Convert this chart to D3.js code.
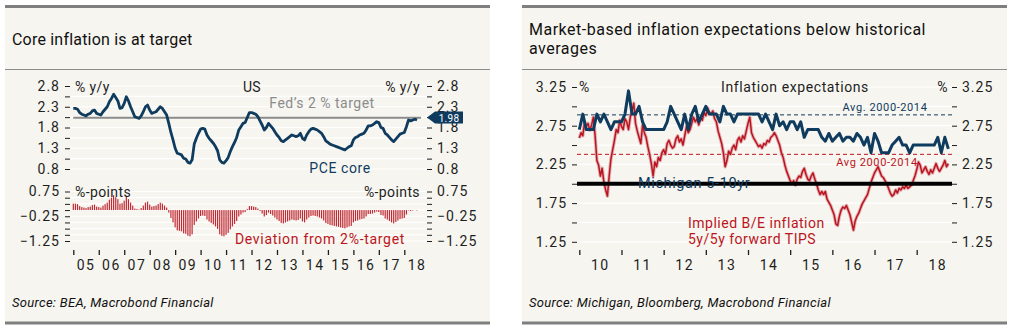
<!DOCTYPE html>
<html>
<head>
<meta charset="utf-8">
<script src="https://cdn.jsdelivr.net/npm/d3@7"></script>
<style>
body{margin:0;background:#fff;}
text{font-family:Roboto,"DejaVu Sans",sans-serif;}
</style>
</head>
<body>
<svg id="chart" width="1016" height="334"></svg>
<script>
// left panel: US core PCE, monthly from Jan 2005
const pceStart = 2005;
const pceCore = [
  2.26, 2.26, 2.24, 2.16, 2.12, 2.10, 2.08, 2.12, 2.14, 2.20, 2.22, 2.14,
  2.12, 2.10, 2.18, 2.24, 2.30, 2.42, 2.50, 2.60, 2.52, 2.44, 2.26, 2.28,
  2.38, 2.54, 2.44, 2.30, 2.18, 2.06, 2.04, 2.02, 2.08, 2.18, 2.30, 2.34,
  2.22, 2.14, 2.16, 2.18, 2.24, 2.30, 2.26, 2.18, 2.10, 1.90, 1.68, 1.50,
  1.30, 1.18, 1.16, 1.14, 1.06, 1.04, 0.96, 0.94, 1.02, 1.40, 1.54, 1.66,
  1.76, 1.78, 1.76, 1.62, 1.54, 1.48, 1.42, 1.34, 1.24, 1.02, 0.96, 0.94,
  1.00, 1.08, 1.22, 1.34, 1.44, 1.56, 1.74, 1.82, 1.90, 1.92, 2.04, 2.16,
  2.16, 2.14, 2.12, 2.06, 1.96, 1.86, 1.74, 1.80, 1.90, 1.84, 1.78, 1.70,
  1.62, 1.56, 1.48, 1.46, 1.50, 1.54, 1.58, 1.62, 1.60, 1.58, 1.60, 1.66,
  1.54, 1.50, 1.62, 1.70, 1.76, 1.78, 1.76, 1.74, 1.70, 1.66, 1.58, 1.48,
  1.44, 1.40, 1.38, 1.36, 1.34, 1.32, 1.30, 1.28, 1.26, 1.30, 1.34, 1.36,
  1.50, 1.56, 1.58, 1.62, 1.64, 1.66, 1.74, 1.84, 1.84, 1.86, 1.90, 1.94,
  1.92, 1.80, 1.78, 1.66, 1.62, 1.56, 1.50, 1.46, 1.52, 1.58, 1.64, 1.66,
  1.68, 1.82, 1.98, 1.96, 1.98, 2.00, 1.98
];
const pceTarget = 2.0;
const leftYears = [2005, 2006, 2007, 2008, 2009, 2010, 2011, 2012, 2013, 2014, 2015, 2016, 2017, 2018];
const leftYearLabels = ["05", "06", "07", "08", "09", "10", "11", "12", "13", "14", "15", "16", "17", "18"];
const pceTicks = [0.8, 1.05, 1.3, 1.55, 1.8, 2.05, 2.3, 2.55, 2.8];
const pceLabels = [0.8, 1.3, 1.8, 2.3, 2.8];
const devTicks = [-1.25, -1, -0.75, -0.5, -0.25, 0, 0.25, 0.5, 0.75];
const devLabels = [-1.25, -0.25, 0.75];

// right panel: Michigan 5-10yr (monthly from Jan 2010), 5y5y TIPS (twice a month from Jan 2010)
const micStart = 2010;
const michigan = [
  2.7, 2.9, 2.7, 2.7, 2.7, 2.9, 2.8, 2.9, 2.8, 2.7, 2.8, 2.8,
  2.8, 2.9, 3.2, 2.9, 2.9, 3.0, 2.8, 2.7, 2.7, 2.7, 2.7, 2.7,
  2.7, 2.8, 3.0, 2.9, 2.8, 2.7, 2.9, 2.7, 2.9, 3.0, 2.8, 2.9,
  3.0, 2.9, 2.9, 2.9, 2.8, 3.0, 2.9, 2.9, 2.8, 2.9, 2.9, 2.9,
  2.9, 2.9, 2.9, 2.9, 2.8, 2.9, 2.8, 2.7, 2.9, 2.75, 2.8, 2.7,
  2.8, 2.8, 2.7, 2.8, 2.6, 2.7, 2.7, 2.7, 2.7, 2.6, 2.55, 2.65,
  2.55, 2.6, 2.65, 2.55, 2.6, 2.6, 2.55, 2.65, 2.6, 2.5, 2.6, 2.4,
  2.65, 2.55, 2.4, 2.4, 2.4, 2.5, 2.55, 2.6, 2.5, 2.5, 2.4, 2.5,
  2.5, 2.5, 2.5, 2.5, 2.5, 2.5, 2.6, 2.4, 2.6, 2.45
];
const tipsStart = 2010;
const tips5y5y = [
  2.59, 2.66, 2.62, 2.80, 2.74, 2.78, 2.69, 2.76, 2.86, 2.62, 2.30, 2.24,
  2.10, 2.20, 2.02, 1.92, 1.84, 2.10, 2.32, 2.44, 2.56, 2.70, 2.66, 2.82,
  2.74, 2.70, 2.84, 2.80, 2.70, 2.86, 2.94, 3.04, 2.78, 2.68, 2.60, 2.52,
  2.76, 2.66, 2.60, 2.48, 2.38, 2.26, 2.10, 2.28, 2.22, 2.34, 2.30, 2.40,
  2.44, 2.38, 2.52, 2.56, 2.50, 2.46, 2.48, 2.58, 2.62, 2.54, 2.58, 2.50,
  2.62, 2.74, 2.66, 2.70, 2.78, 2.86, 2.80, 2.84, 2.76, 2.86, 2.82, 2.92,
  2.88, 2.98, 2.92, 2.90, 2.94, 2.84, 2.80, 2.68, 2.60, 2.52, 2.40, 2.22,
  2.30, 2.42, 2.38, 2.46, 2.50, 2.44, 2.56, 2.60, 2.54, 2.62, 2.58, 2.68,
  2.78, 2.86, 2.66, 2.60, 2.56, 2.52, 2.48, 2.50, 2.46, 2.52, 2.50, 2.56,
  2.54, 2.60, 2.62, 2.66, 2.62, 2.56, 2.50, 2.40, 2.34, 2.24, 2.16, 2.10,
  2.04, 2.00, 2.04, 1.98, 2.06, 2.10, 2.08, 2.16, 2.20, 2.12, 2.06, 2.04,
  2.10, 2.14, 2.06, 2.00, 1.92, 1.86, 1.90, 1.86, 1.90, 1.80, 1.76, 1.72,
  1.66, 1.60, 1.48, 1.46, 1.58, 1.66, 1.70, 1.68, 1.72, 1.66, 1.60, 1.50,
  1.40, 1.52, 1.58, 1.62, 1.68, 1.74, 1.78, 1.82, 1.86, 1.94, 2.02, 2.08,
  2.14, 2.18, 2.22, 2.16, 2.10, 2.08, 2.04, 2.00, 1.94, 1.88, 1.84, 1.86,
  1.92, 1.88, 1.94, 1.92, 1.96, 1.94, 1.98, 1.94, 1.96, 1.98, 2.04, 2.10,
  2.18, 2.28, 2.24, 2.14, 2.18, 2.22, 2.16, 2.12, 2.18, 2.14, 2.20, 2.26,
  2.20, 2.16, 2.20, 2.24, 2.30, 2.22, 2.26
];
const micAvg = 2.89;
const tipsAvg = 2.38;
const refLevel = 2.0;
const rightYears = [2010, 2011, 2012, 2013, 2014, 2015, 2016, 2017, 2018];
const rightYearLabels = ["10", "11", "12", "13", "14", "15", "16", "17", "18"];
const expTicks = [1.25, 1.5, 1.75, 2, 2.25, 2.5, 2.75, 3, 3.25];
const expLabels = [1.25, 1.75, 2.25, 2.75, 3.25];

const NAVY = '#0f3b5e';
const RED = '#bb1420';
const INK = '#1e1e1e';

var svg = d3.select('#chart');

var drawPanel = function(x0, x1, titles, titleSpacing, source){
    svg.append('rect').attr('x', x0).attr('y', 5).attr('width', x1 - x0).attr('height', 319)
        .attr('fill', '#f6f5ef');
    svg.append('rect').attr('x', x0).attr('y', 5).attr('width', x1 - x0).attr('height', 3)
        .attr('fill', '#7f7f7f');
    svg.append('rect').attr('x', x0).attr('y', 321.5).attr('width', x1 - x0).attr('height', 3)
        .attr('fill', '#7f7f7f');
    svg.append('line').attr('x1', x0).attr('x2', x1).attr('y1', 69.5).attr('y2', 69.5)
        .attr('stroke', '#8c8c8c').attr('stroke-width', 1);
    titles.forEach(function(t){
        svg.append('text').attr('x', x0 + 7).attr('y', t.y)
            .attr('font-size', 16).attr('letter-spacing', titleSpacing)
            .attr('fill', '#111').text(t.text);
    });
    svg.append('text').attr('x', x0 + 7).attr('y', 307)
        .attr('font-size', 13).attr('letter-spacing', 0.3)
        .attr('font-style', 'italic').attr('fill', '#111').text(source);
};

var isLabel = function(d, labels){
    return labels.some(function(l){ return Math.abs(l - d) < 1e-9; });
};

var fmtNum = function(digits){
    return function(d){ return (d < 0 ? '\u2212' : '') + Math.abs(d).toFixed(digits); };
};

var yAxis = function(scale, x, side, ticks, labels, fmt){
    var axis = (side == 'left' ? d3.axisLeft(scale) : d3.axisRight(scale))
        .tickValues(ticks).tickSize(5).tickPadding(5)
        .tickFormat(function(d){ return isLabel(d, labels) ? fmt(d) : ''; });
    var g = svg.append('g').attr('transform', 'translate(' + x + ',0)').call(axis);
    g.attr('font-family', null).attr('font-size', 14);
    g.select('.domain').remove();
    g.selectAll('.tick line').attr('stroke', INK);
    // minor ticks carry no label
    g.selectAll('.tick text').filter(function(d){ return !isLabel(d, labels); }).remove();
    g.selectAll('.tick text').attr('fill', INK).attr('letter-spacing', 1);
};

var gridLines = function(scale, ticks, xa, xb){
    svg.append('g').selectAll('line').data(ticks).join('line')
        .attr('x1', xa).attr('x2', xb)
        .attr('y1', function(d){ return scale(d); }).attr('y2', function(d){ return scale(d); })
        .attr('stroke', '#fff').attr('stroke-width', 1.2);
};

var xAxis = function(scale, years, labels, y){
    var axis = d3.axisBottom(scale).tickValues(years).tickSize(5).tickFormat('');
    var g = svg.append('g').attr('transform', 'translate(0,' + y + ')').call(axis);
    g.select('.domain').remove();
    g.selectAll('.tick text').remove();
    g.selectAll('.tick line').attr('stroke', INK).attr('stroke-width', 1.3);
    svg.append('g').selectAll('text').data(years).join('text')
        .attr('x', function(d){ return scale(d + 0.5); }).attr('y', y + 20)
        .attr('text-anchor', 'middle').attr('font-size', 14).attr('letter-spacing', 1.5)
        .attr('fill', INK)
        .text(function(d, i){ return labels[i]; });
};

var label = function(x, y, text, opts){
    opts = opts || {};
    return svg.append('text').attr('x', x).attr('y', y)
        .attr('dominant-baseline', 'central')
        .attr('text-anchor', opts.anchor || 'start')
        .attr('font-size', opts.size || 14)
        .attr('letter-spacing', opts.ls == null ? 0.4 : opts.ls)
        .attr('fill', opts.fill || INK)
        .text(text);
};

// ---------- left panel ----------
drawPanel(5, 490, [{text: 'Core inflation is at target', y: 45}], 0.2,
    'Source: BEA, Macrobond Financial');

var xL = d3.scaleLinear().domain([2005, 2018]).range([73.3, 404.3]);
var yTop = d3.scaleLinear().domain([0.8, 2.8]).range([169, 86]);
var yBot = d3.scaleLinear().domain([-1.25, 0.75]).range([241, 191.5]);

gridLines(yTop, pceTicks, 70, 427);
gridLines(yBot, devTicks, 70, 427);

svg.append('line').attr('x1', xL(pceStart)).attr('x2', 421)
    .attr('y1', yTop(pceTarget) - 1.5).attr('y2', yTop(pceTarget) - 1.5)
    .attr('stroke', '#8a8a8a').attr('stroke-width', 2);

var pceLine = d3.line()
    .x(function(d, i){ return xL(pceStart + i / 12); })
    .y(function(d){ return yTop(d); });
svg.append('path').datum(pceCore).attr('d', pceLine)
    .attr('fill', 'none').attr('stroke', NAVY).attr('stroke-width', 2.8)
    .attr('stroke-linejoin', 'round');

// deviation from target as monthly bars
var deviation = pceCore.map(function(v){ return v - pceTarget; });
svg.append('g').selectAll('rect').data(deviation).join('rect')
    .attr('x', function(d, i){ return xL(pceStart + i / 12) - 0.6; })
    .attr('width', 1.2)
    .attr('y', function(d){ return Math.min(yBot(0), yBot(d)); })
    .attr('height', function(d){ return Math.abs(yBot(d) - yBot(0)); })
    .attr('fill', RED).attr('opacity', 0.9);

yAxis(yTop, 70, 'left', pceTicks, pceLabels, fmtNum(1));
yAxis(yTop, 427, 'right', pceTicks, pceLabels, fmtNum(1));
yAxis(yBot, 70, 'left', devTicks, devLabels, fmtNum(2));
yAxis(yBot, 427, 'right', devTicks, devLabels, fmtNum(2));
xAxis(xL, leftYears, leftYearLabels, 250);

label(75, 87, '% y/y');
label(420, 87, '% y/y', {anchor: 'end'});
label(252, 87, 'US', {anchor: 'middle'});
label(322, 103, 'Fed\u2019s 2 % target', {anchor: 'middle', fill: '#8c8c8c', ls: 0.5});
label(340, 168, 'PCE core', {anchor: 'middle', fill: NAVY, ls: 0.6});
label(75, 192, '%-points');
label(420, 192, '%-points', {anchor: 'end'});
label(320, 238.5, 'Deviation from 2%-target', {anchor: 'middle', fill: RED, ls: 0.7});

// last value callout
var lastPce = pceCore[pceCore.length - 1];
var cy = yTop(lastPce) - 2.5;
svg.append('path')
    .attr('d', 'M427,' + cy + 'L435,' + (cy - 6) + 'L463,' + (cy - 6) + 'L463,' + (cy + 6) + 'L435,' + (cy + 6) + 'Z')
    .attr('fill', NAVY);
label(449, cy + 0.5, lastPce.toFixed(2), {anchor: 'middle', size: 10, fill: '#fff', ls: 0.3});

// ---------- right panel ----------
drawPanel(522, 1007, [
    {text: 'Market-based inflation expectations below historical', y: 35},
    {text: 'averages', y: 53.5}
], 0.5, 'Source: Michigan, Bloomberg, Macrobond Financial');

var xR = d3.scaleLinear().domain([2010, 2018]).range([579.3, 916.7]);
var yR = d3.scaleLinear().domain([1.25, 3.25]).range([241.8, 87]);

gridLines(yR, expTicks, 577, 952);

var dashed = function(v, color){
    svg.append('line').attr('x1', 577).attr('x2', 952)
        .attr('y1', yR(v)).attr('y2', yR(v))
        .attr('stroke', color).attr('stroke-width', 1).attr('stroke-dasharray', '4,3');
};
dashed(micAvg, NAVY);
dashed(tipsAvg, RED);

var tipsLine = d3.line()
    .x(function(d, i){ return xR(tipsStart + i / 24); })
    .y(function(d){ return yR(d); });
svg.append('path').datum(tips5y5y).attr('d', tipsLine)
    .attr('fill', 'none').attr('stroke', '#dc9ea2').attr('stroke-width', 3.4)
    .attr('stroke-linejoin', 'round').attr('opacity', 0.8);
svg.append('path').datum(tips5y5y).attr('d', tipsLine)
    .attr('fill', 'none').attr('stroke', RED).attr('stroke-width', 1.5)
    .attr('stroke-linejoin', 'round');

svg.append('line').attr('x1', 577).attr('x2', 952)
    .attr('y1', yR(refLevel)).attr('y2', yR(refLevel))
    .attr('stroke', '#000').attr('stroke-width', 4);

var micLine = d3.line()
    .x(function(d, i){ return xR(micStart + i / 12); })
    .y(function(d){ return yR(d); });
svg.append('path').datum(michigan).attr('d', micLine)
    .attr('fill', 'none').attr('stroke', NAVY).attr('stroke-width', 3)
    .attr('stroke-linejoin', 'round');

yAxis(yR, 577, 'left', expTicks, expLabels, fmtNum(2));
yAxis(yR, 952, 'right', expTicks, expLabels, fmtNum(2));
xAxis(xR, rightYears, rightYearLabels, 250);

label(579, 87, '%');
label(948, 87, '%', {anchor: 'end'});
label(795, 87, 'Inflation expectations', {anchor: 'middle', ls: 0.6});
label(885, 107, 'Avg. 2000-2014', {anchor: 'middle', size: 11, fill: NAVY, ls: 0.6});
label(877, 162, 'Avg 2000-2014', {anchor: 'middle', size: 11, fill: RED, ls: 0.6});
label(638, 183, 'Michigan 5-10yr', {fill: NAVY, size: 14.5, ls: 0.6});
label(688, 222.5, 'Implied B/E inflation', {fill: RED, ls: 0.5});
label(688, 238.5, '5y/5y forward TIPS', {fill: RED, ls: 0.5});
</script>
</body>
</html>
